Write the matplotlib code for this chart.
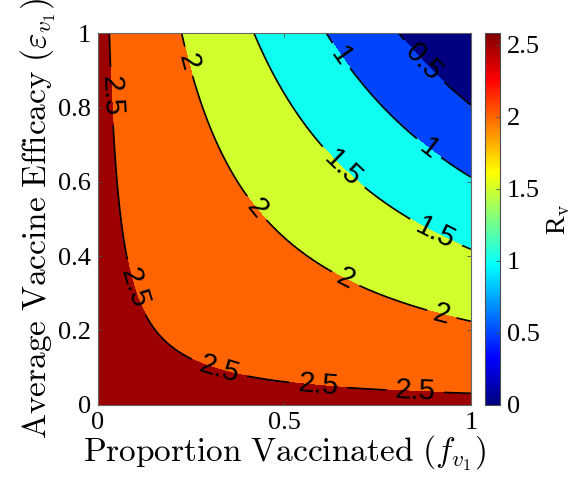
import numpy as np
import matplotlib
matplotlib.use("Agg")
import matplotlib.pyplot as plt
from matplotlib import cm, colors

# values
r0 = 2.58                                  # R_v with no vaccination (colorbar max)
levels = [0.5, 1.0, 1.5, 2.0, 2.5]        # labelled contour levels
cbar_ticks = [0, 0.5, 1, 1.5, 2, 2.5]
axis_ticks_x = [0, 0.5, 1]
axis_ticks_y = [0, 0.2, 0.4, 0.6, 0.8, 1]

# where the contour labels sit (f, eps)
label_pos = [
    (0.03, 0.83), (0.23, 0.92), (0.64, 0.93), (0.86, 0.91),
    (0.88, 0.68), (0.65, 0.63), (0.415, 0.52), (0.90, 0.45),
    (0.66, 0.33), (0.92, 0.235), (0.08, 0.31), (0.32, 0.08),
    (0.59, 0.04), (0.85, 0.03),
]

plt.rcParams['mathtext.fontset'] = 'cm'

# MATLAB flavoured jet
xs = np.linspace(0, 1, 256)
jet_rgb = np.stack([np.clip(1.5 - np.abs(4 * xs - k), 0, 1) for k in (3, 2, 1)], axis=1)
mjet = colors.ListedColormap(jet_rgb, name='mjet')

f = np.linspace(0, 1, 401)
e = np.linspace(0, 1, 401)
F, E = np.meshgrid(f, e)
R = r0 * (1 - F * E)   # effective reproduction number

fig = plt.figure(figsize=(5.82, 4.86), dpi=100)
ax = fig.add_axes([0.168, 0.167, 0.641, 0.765])
cax = fig.add_axes([0.833, 0.167, 0.026, 0.765])

# each band takes the colour of its lower level, like MATLAB contourf
fill_levels = [0] + levels + [r0]
norm = colors.Normalize(vmin=0, vmax=r0)
band_colors = [mjet(norm(v)) for v in fill_levels[:-1]]
ax.contourf(F, E, R, levels=fill_levels, colors=band_colors)
cs = ax.contour(F, E, R, levels=levels, colors='k', linewidths=1.2)
ax.clabel(cs, manual=label_pos, inline=True, fontsize=21, fmt='%g',
          inline_spacing=6)
for t in cs.labelTexts:
    t.set_family('Liberation Sans')

ax.set_xlim(0, 1)
ax.set_ylim(0, 1)
ax.set_xticks(axis_ticks_x)
ax.set_xticklabels(['0', '0.5', '1'])
ax.set_yticks(axis_ticks_y)
ax.set_yticklabels(['0', '0.2', '0.4', '0.6', '0.8', '1'])
ax.tick_params(direction='in', length=3, width=0.6, top=True, right=True,
               labelsize=19, color='0.3', pad=5)
for lab in ax.get_xticklabels() + ax.get_yticklabels():
    lab.set_family('Liberation Serif')
for s in ax.spines.values():
    s.set_color('0.4')
    s.set_linewidth(0.8)

ax.set_xlabel(r'$\mathrm{Proportion\ Vaccinated}\ (f_{v_1})$', fontsize=24,
              labelpad=0)
ax.set_ylabel(r'$\mathrm{Average\ Vaccine\ Efficacy}\ (\varepsilon_{v_1})$',
              fontsize=24, labelpad=0)

sm = cm.ScalarMappable(norm=norm, cmap=mjet)
cb = fig.colorbar(sm, cax=cax, ticks=cbar_ticks)
cb.ax.set_yticklabels(['0', '0.5', '1', '1.5', '2', '2.5'])
cb.ax.tick_params(direction='in', length=3, width=0.6, labelsize=19,
                  color='0.3', pad=5)
for lab in cb.ax.get_yticklabels():
    lab.set_family('Liberation Serif')
cb.outline.set_edgecolor('0.3')
cb.set_label(r'R$_\mathrm{v}$', fontsize=20, family='Liberation Serif',
             labelpad=4)

fig.savefig('out.png', dpi=100)
